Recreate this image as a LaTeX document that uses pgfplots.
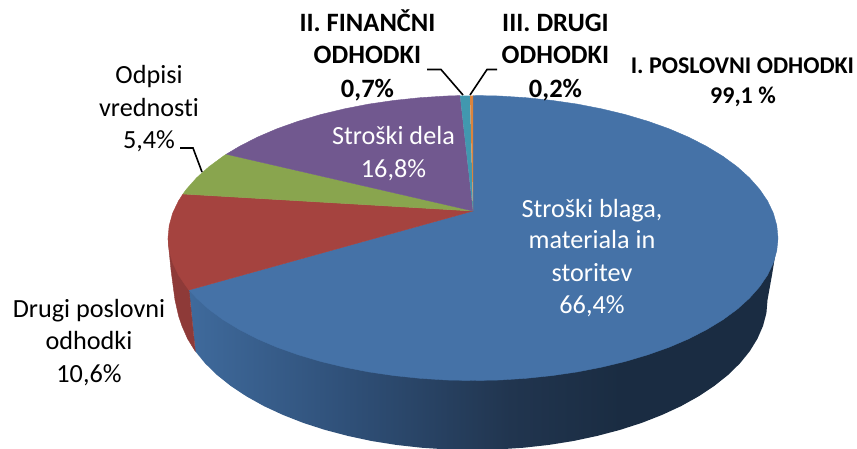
\documentclass[border=0pt]{standalone}
\usepackage{pgfplots}
\pgfplotsset{compat=1.18}
\usepackage{fontspec}
\setmainfont{Carlito}[Ligatures=NoCommon]
\definecolor{cblue}{HTML}{4572A7}
\definecolor{cred}{HTML}{A5433F}
\definecolor{cgreen}{HTML}{89A54E}
\definecolor{cpurple}{HTML}{71588F}
\definecolor{cteal}{HTML}{4198AF}
\definecolor{corange}{HTML}{DB843D}
\definecolor{credwall}{HTML}{8E3A38}
% wall of the big slice, light on the left, dark from the middle on
\pgfdeclarehorizontalshading{wallblue}{100bp}{
  rgb(0bp)=(0.247,0.416,0.612);
  rgb(25bp)=(0.247,0.416,0.612);
  rgb(37.8bp)=(0.188,0.318,0.478);
  rgb(52.3bp)=(0.129,0.208,0.310);
  rgb(61.6bp)=(0.102,0.173,0.259);
  rgb(100bp)=(0.102,0.173,0.259)}
% one line of text, base of the letters at the given pixel
\newcommand{\lab}[4][black]{\node[anchor=base,inner sep=0pt,text=#1,font=\fontsize{26.2}{30}\selectfont] at (axis cs:#2,#3) {#4};}
\newcommand{\labb}[3]{\node[anchor=base,inner sep=0pt,font=\fontsize{26.5}{30}\selectfont\bfseries] at (axis cs:#1,#2) {#3};}
\newcommand{\labs}[3]{\node[anchor=base,inner sep=0pt,font=\fontsize{24}{28}\selectfont\bfseries] at (axis cs:#1,#2) {#3};}
\begin{document}
\begin{tikzpicture}
\path[use as bounding box] (0,0) rectangle (857pt,448pt);
\begin{axis}[
    at={(0,0)}, anchor=south west,
    scale only axis,
    width=857pt, height=448pt,
    xmin=0, xmax=857, ymin=0, ymax=448,
    y dir=reverse,
    axis lines=none,
    clip=true,
    no markers,
    every axis plot/.append style={forget plot, line width=0.4pt},
]
% walls
\addplot[shade, shading=wallblue, draw=none] coordinates {
  (473,238) (189,290) (195.3,351.3) (205.1,363.4) (217.0,375.0) (230.8,386.0) (246.5,396.4)
  (263.9,406.1) (282.9,414.9) (303.3,422.9) (325.0,429.9) (347.8,435.9) (371.6,441.0)
  (396.1,444.9) (421.3,447.7) (446.8,449.4) (472.5,450) (498.2,449.4) (523.7,447.7)
  (548.9,444.9) (573.4,441.0) (597.2,435.9) (620.0,429.9) (641.7,422.9) (662.1,414.9)
  (681.1,406.1) (698.5,396.4) (714.2,386.0) (728.0,375.0) (739.9,363.4) (749.7,351.3)
  (757.4,338.8) (763.0,326.0) (766.4,313.1) (767.5,300) (772,275) (778,238)};
\addplot[fill=credwall, draw=credwall] coordinates {
  (168,238) (169,250) (171,270) (175,300) (178.6,316) (182,326) (187.6,338.8) (195.3,351.3)
  (189,290)};
% top of the pie
\addplot[fill=cblue, draw=cblue] coordinates {
  (473,211) (473,95.5) (499.6,96.0) (526,97.7) (551.9,100.4) (577.3,104.1) (601.9,108.9)
  (625.5,114.6) (648.0,121.3) (669.1,128.8) (688.7,137.2) (706.6,146.4) (722.9,156.3)
  (737.1,166.7) (749.4,177.8) (759.6,189.3) (767.6,201.1) (773.4,213.3) (776.8,225.6)
  (778,238) (776.8,250.4) (773.4,262.7) (767.6,274.9) (759.6,286.7) (749.4,298.2)
  (737.1,309.3) (722.9,319.7) (706.6,329.6) (688.7,338.8) (669.1,347.2) (648.0,354.7)
  (625.5,361.4) (601.9,367.1) (577.3,371.9) (551.9,375.6) (526.0,378.3) (499.6,380.0)
  (473,380.5) (446.4,380.0) (420.0,378.3) (394.1,375.6) (368.7,371.9) (344.1,367.1)
  (320.5,361.4) (298.0,354.7) (276.9,347.2) (257.3,338.8) (239.4,329.6) (223.1,319.7)
  (208.9,309.3) (196.6,298.2) (189,290) (473,211)};
\addplot[fill=cred, draw=cred] coordinates {
  (473,211) (189,290) (186.4,286.7) (178.4,274.9) (172.6,262.7) (169.2,250.4) (168,238)
  (169.2,225.6) (172.6,213.3) (178.4,201.1) (183,194) (473,211)};
\addplot[fill=cgreen, draw=cgreen] coordinates {
  (473,211) (183,194) (186.4,189.3) (196.6,177.8) (208.9,166.8) (223.1,156.3) (226.3,154.2)
  (473,211)};
\addplot[fill=cpurple, draw=cpurple] coordinates {
  (473,211) (226.3,154.2) (239.4,146.4) (257.3,137.2) (276.9,128.8) (298.0,121.3)
  (320.5,114.6) (344.1,108.9) (368.7,104.1) (394.1,100.4) (420.0,97.7) (446.4,96.0)
  (460,95.6) (473,211)};
\addplot[fill=cteal, draw=none] coordinates {(473,211) (460,95.6) (470,95.5) (473,211)};
\addplot[fill=corange, draw=none] coordinates {(473,211) (470,95.5) (473,95.5) (473,211)};
% leader lines
\addplot[black, line width=1.6pt] coordinates {(180,148) (193,148) (202,172)};
\addplot[black, line width=1.6pt] coordinates {(427,69.5) (441,69.5) (463,95)};
\addplot[black, line width=1.6pt] coordinates {(497,69.5) (487,69.5) (470,95)};
% labels
\lab[white]{592}{217}{Stroški blaga,}
\lab[white]{592}{248}{materiala in}
\lab[white]{592}{281}{storitev}
\lab[white]{592}{313}{66,4\%}
\lab[white]{393.5}{144}{Stroški dela}
\lab[white]{393.5}{177}{16,8\%}
\lab{149}{83}{Odpisi}
\lab{149}{116}{vrednosti}
\lab{149}{148}{5,4\%}
\lab{89}{317}{Drugi poslovni}
\lab{89}{349}{odhodki}
\lab{89}{382}{10,6\%}
\labb{367.5}{31}{II. FINANČNI}
\labb{367.5}{63}{ODHODKI}
\labb{367.5}{97}{0,7\%}
\labb{555.5}{31}{III. DRUGI}
\labb{555.5}{63}{ODHODKI}
\labb{555.5}{97}{0,2\%}
\labs{742.5}{73}{I. POSLOVNI ODHODKI}
\labs{743}{103}{99,1 \%}
\end{axis}
\end{tikzpicture}
\end{document}
